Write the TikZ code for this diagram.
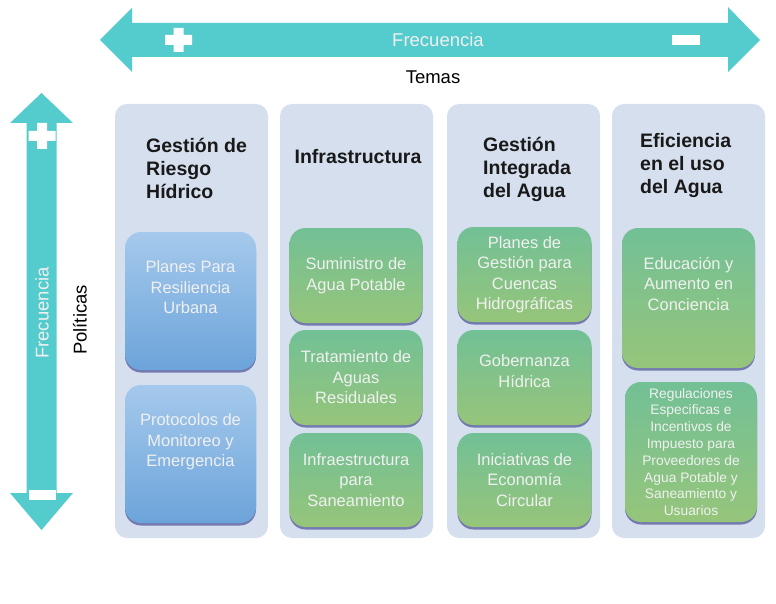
\documentclass[tikz,border=0pt]{standalone}
\usepackage{fontspec}
\setmainfont{Liberation Sans}
\usetikzlibrary{shadows}
\definecolor{arrowteal}{RGB}{84,203,204}
\definecolor{panelblue}{RGB}{213,223,238}
\definecolor{bluetop}{RGB}{165,201,236}
\definecolor{bluebot}{RGB}{108,164,218}
\definecolor{greentop}{RGB}{114,192,150}
\definecolor{greenbot}{RGB}{150,197,122}

\begin{document}
\begin{tikzpicture}[x=1pt,y=-1pt]
\tikzstyle{panel}=[rounded corners=12pt, fill=panelblue, minimum width=153pt, minimum height=434pt, inner sep=0pt]
\tikzstyle{head}=[font=\fontsize{19.5}{23}\selectfont\bfseries, align=left, inner sep=0pt, text=black!90]
\tikzstyle{box}=[rounded corners=16pt, inner sep=0pt, align=center, text=white!94!black,
  font=\fontsize{16.5}{20.5}\selectfont, drop shadow={shadow xshift=0pt, shadow yshift=-2.5pt, opacity=0.45, fill=black!60!blue}]
\tikzstyle{bluebox}=[box, top color=bluetop, bottom color=bluebot]
\tikzstyle{greenbox}=[box, top color=greentop, bottom color=greenbot]
\tikzstyle{axis}=[font=\fontsize{18.5}{22}\selectfont, inner sep=0pt]
\useasboundingbox (0,0) rectangle (776,604);

% ejes
\fill[arrowteal] (100,40) -- (132,8) -- (132,23) -- (728,23) -- (728,7) -- (760,40)
  -- (728,72) -- (728,57) -- (132,57) -- (132,72) -- cycle;
\fill[arrowteal] (41.5,93) -- (73,123) -- (56.5,123) -- (56.5,493) -- (73,493) -- (41.5,530)
  -- (10,493) -- (26.5,493) -- (26.5,123) -- (10,123) -- cycle;
\fill[white] (165,35) rectangle (192,45) (173.5,28) rectangle (183.5,52);
\fill[white] (672,35) rectangle (700,45);
\fill[white] (28.5,131) rectangle (55.5,141) (37,123) rectangle (47,149);
\fill[white] (28.5,490) rectangle (55.5,500);
\node[axis, text=white!94!black] (frecA) at (438,40) {Frecuencia};
\node[axis] (temas) at (433,77) {Temas};
\node[axis, text=white!94!black, rotate=90] (frecB) at (42,313) {Frecuencia};
\node[axis, rotate=90] (pol) at (80,320) {Políticas};

% temas
\node[panel] (riesgo) at (191.5,321) {};
\node[panel] (infra) at (356.5,321) {};
\node[panel] (integ) at (523.5,321) {};
\node[panel] (efic) at (688.5,321) {};
\node[head, anchor=west] (h1) at (146,168) {Gestión de\\Riesgo\\Hídrico};
\node[head] (h2) at (358,157) {Infrastructura};
\node[head, anchor=west] (h3) at (483,169) {Gestión\\Integrada\\del Agua};
\node[head, anchor=west] (h4) at (640,166) {Eficiencia\\en el uso\\del Agua};

% politicas
\node[bluebox, minimum width=131pt, minimum height=138pt, text depth=27pt] (planes) at (190.5,301) {Planes Para\\Resiliencia\\Urbana};
\node[bluebox, minimum width=131pt, minimum height=138pt, text depth=27pt] (proto) at (190.5,454) {Protocolos de\\Monitoreo y\\Emergencia};

\node[greenbox, minimum width=133pt, minimum height=95pt] (sumin) at (356,275.5) {Suministro de\\Agua Potable};
\node[greenbox, minimum width=133pt, minimum height=95pt] (trat) at (356,377.5) {Tratamiento de\\Aguas\\Residuales};
\node[greenbox, minimum width=133pt, minimum height=94pt] (sanea) at (356,480) {Infraestructura\\para\\Saneamiento};

\node[greenbox, minimum width=134pt, minimum height=95pt] (cuenca) at (524.5,274.5) {Planes de\\Gestión para\\Cuencas\\Hidrográficas};
\node[greenbox, minimum width=134pt, minimum height=95pt, text depth=13pt] (gober) at (524.5,377.5) {Gobernanza\\Hídrica};
\node[greenbox, minimum width=134pt, minimum height=94pt] (circ) at (524.5,480) {Iniciativas de\\Economía\\Circular};

\node[greenbox, minimum width=133pt, minimum height=140pt, text depth=29pt] (educ) at (688.5,298) {Educación y\\Aumento en\\Conciencia};
\node[greenbox, minimum width=132pt, minimum height=140pt, font=\fontsize{13.8}{16.8}\selectfont] (regul) at (691,452) {Regulaciones\\Especificas e\\Incentivos de\\Impuesto para\\Proveedores de\\Agua Potable y\\Saneamiento y\\Usuarios};
\end{tikzpicture}
\end{document}
